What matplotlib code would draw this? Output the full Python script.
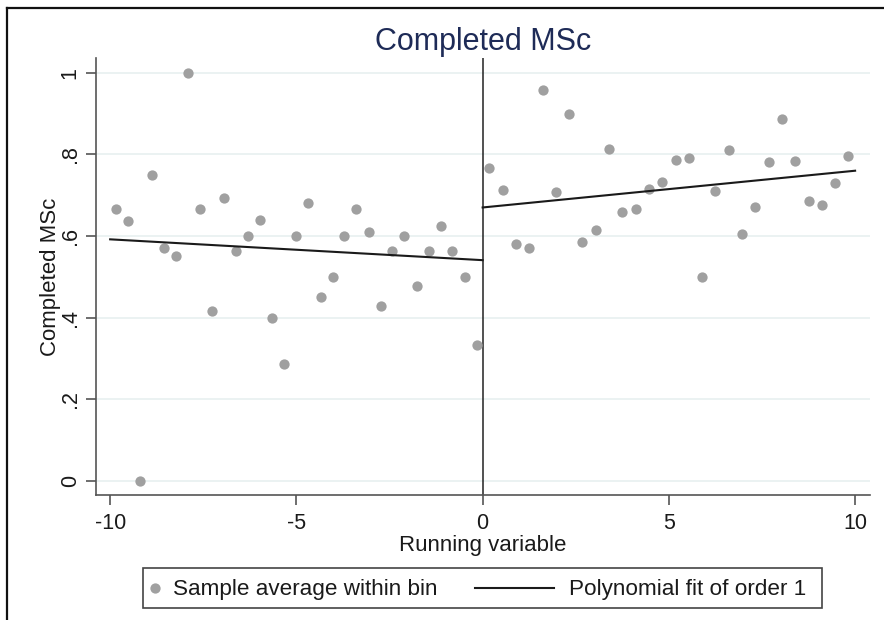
import matplotlib
matplotlib.use("Agg")
import matplotlib.pyplot as plt
from matplotlib.lines import Line2D
from matplotlib.patches import Rectangle
import numpy as np

plt.rcParams['font.family'] = ['Liberation Sans', 'DejaVu Sans']

# Bin centres and within-bin sample averages, left of the cutoff
left_x = [-9.84, -9.52, -9.19, -8.87, -8.55, -8.23, -7.90, -7.58, -7.26, -6.94,
          -6.61, -6.29, -5.97, -5.65, -5.32, -5.00, -4.68, -4.35, -4.03, -3.71,
          -3.39, -3.06, -2.74, -2.42, -2.10, -1.77, -1.45, -1.13, -0.81, -0.48,
          -0.16]
left_y = [0.667, 0.636, 0.0, 0.75, 0.571, 0.55, 1.0, 0.667, 0.417, 0.692,
          0.5625, 0.60, 0.64, 0.40, 0.286, 0.60, 0.682, 0.45, 0.50, 0.60,
          0.667, 0.611, 0.429, 0.5625, 0.60, 0.478, 0.5625, 0.625, 0.5625, 0.50,
          0.333]

# Bin centres and within-bin sample averages, right of the cutoff
right_x = [0.18, 0.54, 0.89, 1.25, 1.61, 1.96, 2.32, 2.68, 3.04, 3.39,
           3.75, 4.11, 4.46, 4.82, 5.18, 5.54, 5.89, 6.25, 6.61, 6.96,
           7.32, 7.68, 8.04, 8.39, 8.75, 9.11, 9.46, 9.82]
right_y = [0.767, 0.714, 0.581, 0.571, 0.958, 0.709, 0.90, 0.586, 0.615, 0.812,
           0.659, 0.667, 0.716, 0.732, 0.786, 0.79, 0.50, 0.711, 0.810, 0.605,
           0.672, 0.781, 0.886, 0.783, 0.687, 0.677, 0.730, 0.796]

# Linear fits on each side of the cutoff: (intercept at 0, slope, x range)
fit_left = (0.541, -0.0051, (-10.0, 0.0))
fit_right = (0.670, 0.0090, (0.0, 10.0))

x_ticks = [-10, -5, 0, 5, 10]
x_tick_labels = ["-10", "-5", "0", "5", "10"]
y_ticks = [0.0, 0.2, 0.4, 0.6, 0.8, 1.0]
y_tick_labels = ["0", ".2", ".4", ".6", ".8", "1"]

W, H = 884, 620
fig = plt.figure(figsize=(W / 100, H / 100), dpi=100)
fig.patch.set_facecolor('white')

ax = fig.add_axes([96 / W, 1 - 495 / H, (870 - 96) / W, (495 - 58) / H])

dot_color = '#a0a0a0'
line_color = '#1a1a1a'
text_color = '#1a1a1a'
axis_color = '#555555'

ax.set_xlim(-10.38, 10.40)
ax.set_ylim(-0.034, 1.036)

for yv in y_ticks:
    ax.axhline(yv, color='#e8f0f0', lw=1.2, zorder=0)

ax.axvline(0, color='#222222', lw=1.1, zorder=2)

ax.plot(left_x, left_y, 'o', ms=7.4, color=dot_color, mec='none', zorder=3)
ax.plot(right_x, right_y, 'o', ms=7.4, color=dot_color, mec='none', zorder=3)

for b0, b1, (xa, xb) in (fit_left, fit_right):
    xs = np.array([xa, xb])
    ax.plot(xs, b0 + b1 * xs, color=line_color, lw=1.5, zorder=4)

ax.set_xticks(x_ticks)
ax.set_xticklabels(x_tick_labels)
ax.set_yticks(y_ticks)
ax.set_yticklabels(y_tick_labels)

for side in ('top', 'right'):
    ax.spines[side].set_visible(False)
for side in ('left', 'bottom'):
    ax.spines[side].set_color(axis_color)
    ax.spines[side].set_linewidth(1.2)

ax.tick_params(axis='both', colors=axis_color, labelcolor=text_color,
               length=7, width=1.2, labelsize=15.5)
ax.tick_params(axis='x', pad=6)
ax.tick_params(axis='y', pad=4, labelrotation=90)
for lab in ax.get_yticklabels():
    lab.set_va('center')

ax.set_xlabel("Running variable", fontsize=16, color=text_color, labelpad=1)
ax.set_ylabel("Completed MSc", fontsize=16, color=text_color, labelpad=-1)
ax.set_title("Completed MSc", fontsize=22, color='#1e2b57', pad=6)

# Legend below the plot: a framed box holding two entries
leg_y = 1 - 590 / H
leg_size = 16.2
fig.add_artist(Rectangle((143 / W, 1 - 608 / H), (822 - 143) / W, 40 / H,
                         transform=fig.transFigure, facecolor='white',
                         edgecolor='#444444', lw=1.2, zorder=5))
h_dot = Line2D([], [], ls='none', marker='o', ms=7.4, color=dot_color, mec='none')
h_fit = Line2D([], [], color=line_color, lw=1.5)
leg1 = fig.legend([h_dot], ["Sample average within bin"], loc='center left',
                  bbox_to_anchor=(146 / W, leg_y), frameon=False, fontsize=leg_size,
                  handlelength=0.8, handletextpad=0.4, borderpad=0,
                  borderaxespad=0, labelcolor=text_color)
leg2 = fig.legend([h_fit], ["Polynomial fit of order 1"], loc='center left',
                  bbox_to_anchor=(475 / W, leg_y), frameon=False, fontsize=leg_size,
                  handlelength=3.5, handletextpad=0.66, borderpad=0,
                  borderaxespad=0, labelcolor=text_color)
leg1.set_zorder(6)
leg2.set_zorder(6)

# Frame lines along the left and top edges of the figure
fig.add_artist(Line2D([7 / W, 7 / W], [0, 1 - 8 / H], transform=fig.transFigure,
                      color='#111111', lw=1.6))
fig.add_artist(Line2D([7 / W, 1], [1 - 8 / H, 1 - 8 / H], transform=fig.transFigure,
                      color='#111111', lw=1.6))

fig.savefig("out.png", dpi=100, facecolor='white')
